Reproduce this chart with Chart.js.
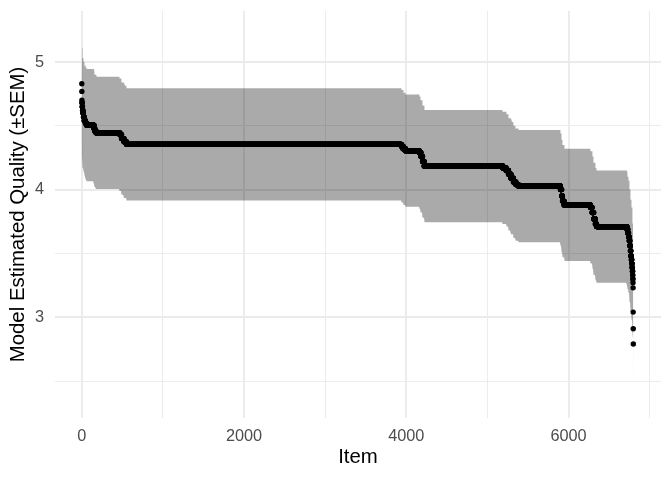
<!DOCTYPE html>
<html><head><meta charset="utf-8">
<script src="https://cdn.jsdelivr.net/npm/chart.js@4"></script>
<style>html,body{margin:0;padding:0;background:#fff}#wrap{width:672px;height:480px;position:relative}</style>
</head><body><div id="wrap"><canvas id="c"></canvas></div>
<script>
// ---- data ----
const itemCount = 6800;
// run-length encoded estimated quality per item (item index where a run starts, value of that run)
const runStart = [0,1,2,3,6,10,15,21,31,46,61,151,161,176,471,491,521,551,3941,3961,3991,4161,4181,4201,4221,5191,5231,5261,5291,5321,5351,5381,5901,5916,5926,5946,6271,6291,6311,6331,6346,6721,6731,6741,6749,6756,6763,6769,6775,6780,6784,6788,6791,6793,6795,6796,6797,6798,6799];
const runValue = [4.83,4.77,4.70,4.68,4.65,4.62,4.60,4.57,4.54,4.52,4.505,4.48,4.46,4.445,4.43,4.40,4.375,4.355,4.34,4.32,4.305,4.29,4.26,4.22,4.185,4.17,4.15,4.12,4.09,4.06,4.04,4.028,4.00,3.95,3.91,3.88,3.86,3.82,3.77,3.73,3.71,3.69,3.66,3.63,3.60,3.56,3.52,3.48,3.45,3.42,3.39,3.36,3.33,3.30,3.27,3.23,3.04,2.91,2.79];
// run-length encoded standard error of the mean
const semStart = [0, 10, 40, 6790];
const semValue = [0.42, 0.43, 0.44, 0.435];
const xMajorTicks = [0, 2000, 4000, 6000];
const xMinorTicks = [1000, 3000, 5000, 7000];
const yMajorTicks = [3, 4, 5];
const yMinorTicks = [2.5, 3.5, 4.5];
const xTitle = 'Item';
const yTitle = 'Model Estimated Quality (±SEM)';

function runLookup(starts, values, i) {
  let k = 0;
  while (k + 1 < starts.length && starts[k + 1] <= i) k++;
  return values[k];
}
const pts = [], upper = [], lower = [];
for (let i = 0; i < itemCount; i++) {
  const q = runLookup(runStart, runValue, i);
  const s = runLookup(semStart, semValue, i);
  pts.push({x: i, y: q});
  upper.push({x: i, y: q + s});
  lower.push({x: i, y: q - s});
}

const FONT = '"Liberation Sans", Arial, Helvetica, sans-serif';
const tickSet = (maj, min) => [...maj, ...min].sort((a, b) => a - b).map(v => ({value: v}));

new Chart(document.getElementById('c'), {
  type: 'line',
  data: {
    datasets: [
      {data: upper, borderColor: 'transparent', borderWidth: 0, pointRadius: 0, fill: false, order: 2, tension: 0},
      {data: lower, borderColor: 'transparent', borderWidth: 0, pointRadius: 0, fill: '-1', backgroundColor: 'rgba(0,0,0,0.335)', order: 1, tension: 0},
      {data: pts, showLine: false, pointRadius: 2.7, pointBackgroundColor: '#000', pointBorderWidth: 0, pointBorderColor: '#000', order: 0}
    ]
  },
  options: {
    responsive: true, maintainAspectRatio: false, animation: false, parsing: false, normalized: true,
    layout: {padding: {top: 11, right: 11, left: 0, bottom: 0}},
    plugins: {legend: {display: false}, tooltip: {enabled: false}},
    scales: {
      x: {
        type: 'linear', min: -330, max: 7140,
        afterBuildTicks: s => { s.ticks = tickSet(xMajorTicks, xMinorTicks); },
        afterFit: s => { s.height = 62; s.paddingLeft = 0; s.paddingRight = 0; },
        grid: {color: '#EBEBEB', drawTicks: false, lineWidth: c => (c.tick && xMajorTicks.includes(c.tick.value)) ? 1.9 : 0.95},
        border: {display: false},
        ticks: {autoSkip: false, maxRotation: 0, padding: 9, color: '#4D4D4D', font: {family: FONT, size: 16.3},
          callback: v => xMajorTicks.includes(v) ? String(v) : ''},
        title: {display: true, text: xTitle, color: '#000', font: {family: FONT, size: 20.4}, padding: {top: 0, bottom: 10}}
      },
      y: {
        type: 'linear', min: 2.21, max: 5.40,
        afterBuildTicks: s => { s.ticks = tickSet(yMajorTicks, yMinorTicks); },
        afterFit: s => { s.width = 55; s.paddingTop = 0; s.paddingBottom = 0; },
        grid: {color: '#EBEBEB', drawTicks: false, lineWidth: c => (c.tick && yMajorTicks.includes(c.tick.value)) ? 1.9 : 0.95},
        border: {display: false},
        ticks: {autoSkip: false, padding: 11, color: '#4D4D4D', font: {family: FONT, size: 16.3},
          callback: v => yMajorTicks.includes(v) ? String(v) : ''},
        title: {display: true, text: yTitle, color: '#000', font: {family: FONT, size: 20.4}, padding: {top: 6.5, bottom: 0}}
      }
    }
  }
});
</script></body></html>
